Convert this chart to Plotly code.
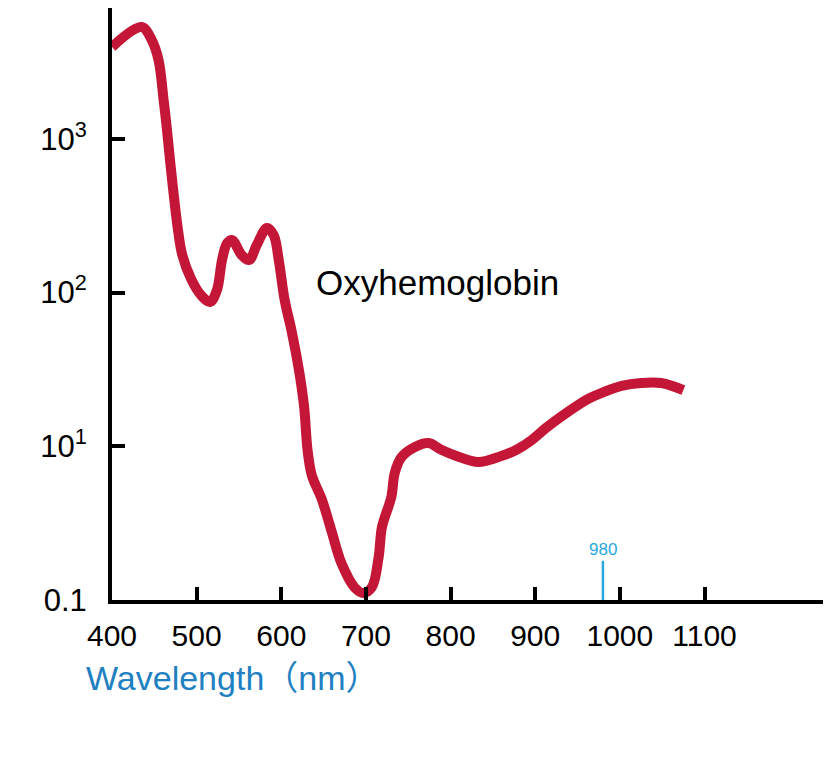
import plotly.graph_objects as go

# Oxyhemoglobin absorption curve (values in the chart's plotted units)
wavelength_nm = [400, 435, 447, 455, 461, 465, 471, 478, 483, 494, 506, 516, 524, 530, 536, 542,
                 553, 562, 571, 583, 591, 597, 604, 612, 621, 627, 631, 636, 648, 660, 671,
                 687, 697, 707, 715, 719, 730, 734, 742, 758, 774, 789, 807, 833, 860, 878, 896,
                 913, 937, 960, 978, 1002, 1025, 1049, 1075]
absorption = [3960, 5350, 4400, 3260, 1790, 1140, 540, 255, 176, 121, 95, 87, 104, 163, 210, 220,
              176, 163, 204, 263, 237, 163, 89.5, 57, 31, 18, 9.5, 6.5, 4.5, 2.73, 1.74,
              1.20, 1.11, 1.21, 1.90, 2.99, 4.68, 6.7, 8.5, 9.9, 10.5, 9.5, 8.65, 7.9, 8.65, 9.5, 11.0,
              13.2, 16.5, 20.0, 22.2, 24.7, 25.8, 25.8, 23.2]

x_ticks = [400, 500, 600, 700, 800, 900, 1000, 1100]
x_tick_labels = ["400", "500", "600", "700", "800", "900", "1000", "1100"]
y_ticks = [1, 10, 100, 1000]
y_tick_labels = ["0.1", "10<sup>1</sup>", "10<sup>2</sup>", "10<sup>3</sup>"]

marker_nm = 980
marker_span = [1, 1.8]

FONT = "Liberation Sans, Arial, Noto Sans CJK SC, sans-serif"

fig = go.Figure()
fig.add_trace(go.Scatter(
    x=wavelength_nm, y=absorption, mode="lines",
    line=dict(color="#c41636", width=10, shape="spline", smoothing=1.0),
    hoverinfo="skip", showlegend=False,
))
fig.add_trace(go.Scatter(
    x=[marker_nm, marker_nm], y=marker_span, mode="lines",
    line=dict(color="#2aa7e0", width=2.5),
    hoverinfo="skip", showlegend=False,
))

fig.update_layout(
    width=835, height=759,
    margin=dict(l=104, r=20, t=0, b=167),
    paper_bgcolor="white", plot_bgcolor="white",
    font=dict(family=FONT, color="black"),
    xaxis=dict(
        range=[400, 1240], showgrid=False, zeroline=False,
        showline=True, linecolor="black", linewidth=4,
        ticks="inside", ticklen=13, tickwidth=3.5, tickcolor="black",
        tickvals=x_ticks, ticktext=x_tick_labels,
        tickfont=dict(size=30, family=FONT, color="black"),
        ticklabelstandoff=6,
    ),
    yaxis=dict(
        type="log", range=[0, 3.852], showgrid=False, zeroline=False,
        showline=True, linecolor="black", linewidth=4,
        ticks="inside", ticklen=13, tickwidth=3.5, tickcolor="black",
        tickvals=y_ticks, ticktext=y_tick_labels,
        tickfont=dict(size=31, family=FONT, color="black"),
        ticklabelstandoff=15,
    ),
    annotations=[
        dict(text="Oxyhemoglobin", xref="paper", yref="paper", x=0.458, y=0.5355,
             showarrow=False, xanchor="center", yanchor="middle",
             font=dict(size=35, family=FONT, color="black")),
        dict(text="Wavelength（nm）", xref="paper", yref="paper", x=-0.04, y=-0.1318,
             showarrow=False, xanchor="left", yanchor="middle",
             font=dict(size=34, family=FONT, color="#1f80c2")),
        dict(text=str(marker_nm), xref="x", yref="paper", x=marker_nm, y=0.0861,
             showarrow=False, xanchor="center", yanchor="middle",
             font=dict(size=17, family=FONT, color="#2aa7e0")),
    ],
)

fig.write_html("out.html")
